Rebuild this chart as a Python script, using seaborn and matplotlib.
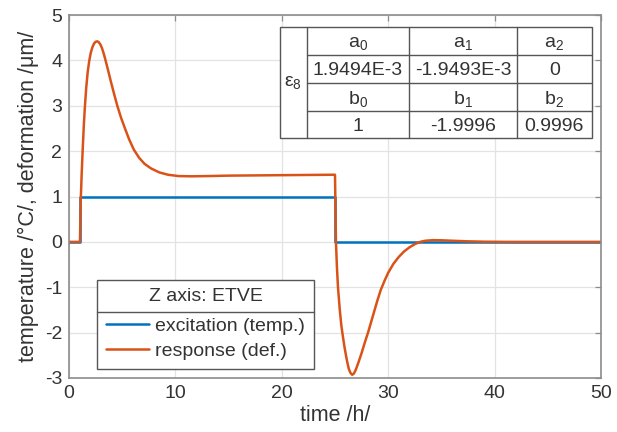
import matplotlib
matplotlib.use("Agg")
import matplotlib.pyplot as plt
import seaborn as sns
import pandas as pd
from matplotlib.lines import Line2D
from matplotlib.patches import Rectangle

# ---------------- data ----------------
exc_t = [0, 1.0, 1.0, 25.0, 25.0, 50]
exc_v = [0, 0, 1, 1, 0, 0]

resp_t = [0, 1.03, 1.1, 1.2, 1.3, 1.4, 1.5, 1.62, 1.76, 1.91, 2.05, 2.2, 2.35,
          2.5, 2.66, 2.8, 2.95, 3.1, 3.25, 3.38, 3.6, 3.95, 4.25, 4.54, 4.9, 5.26,
          5.65, 6.1, 6.6, 7.1, 7.7, 8.5, 9.3, 10.3, 11.5, 13, 15, 20, 25.0,
          25.09, 25.18, 25.28, 25.45, 25.6, 25.72, 25.88, 26.03, 26.17, 26.3, 26.46,
          26.62, 26.78, 26.95, 27.2, 27.5, 27.8, 28.13, 28.45, 28.7, 29.0, 29.3,
          29.65, 30, 30.5, 31, 31.5, 32, 32.5, 33, 33.5, 34.2, 35, 36, 37.5, 39,
          41, 50]
resp_v = [0, 0, 0.9, 1.55, 2.1, 2.6, 3.0, 3.4, 3.75, 4.0, 4.17, 4.29, 4.37,
          4.41, 4.42, 4.40, 4.35, 4.27, 4.16, 4.05, 3.85, 3.52, 3.25, 3.0, 2.73, 2.5,
          2.26, 2.03, 1.85, 1.72, 1.62, 1.53, 1.48, 1.45, 1.445, 1.45, 1.46, 1.47, 1.48,
          0.0, -0.55, -1.0, -1.5, -1.85, -2.05, -2.3, -2.5, -2.67, -2.8, -2.89,
          -2.93, -2.9, -2.82, -2.66, -2.45, -2.22, -1.98, -1.72, -1.52, -1.28, -1.06,
          -0.86, -0.68, -0.48, -0.33, -0.21, -0.12, -0.05, 0.0, 0.025, 0.038, 0.035,
          0.025, 0.012, 0.004, 0.0, 0.0]

series_names = ["excitation (temp.)", "response (def.)"]
series_colors = ["#0072BD", "#D95319"]
legend_title = "Z axis: ETVE"

x_ticks = [0, 10, 20, 30, 40, 50]
y_ticks = [-3, -2, -1, 0, 1, 2, 3, 4, 5]
x_label = "time /h/"
y_label = "temperature /°C/, deformation /μm/"

table_side = r"$\mathregular{ε_8}$"
table_rows = [
    [r"$\mathregular{a_0}$", r"$\mathregular{a_1}$", r"$\mathregular{a_2}$"],
    ["1.9494E-3", "-1.9493E-3", "0"],
    [r"$\mathregular{b_0}$", r"$\mathregular{b_1}$", r"$\mathregular{b_2}$"],
    ["1", "-1.9996", "0.9996"],
]

# ---------------- style ----------------
sns.set_theme(style="white")
plt.rcParams["font.family"] = ["Liberation Sans", "DejaVu Sans"]
plt.rcParams["mathtext.fontset"] = "custom"
plt.rcParams["mathtext.rm"] = "Liberation Sans"
plt.rcParams["mathtext.it"] = "Liberation Sans:italic"
plt.rcParams["mathtext.bf"] = "Liberation Sans:bold"
plt.rcParams["axes.unicode_minus"] = False
TXT = "#333333"
FS = 14
LW = 1.8

W, H = 617, 432
fig = plt.figure(figsize=(W / 100, H / 100), dpi=100)
ax = fig.add_axes([69 / W, 1 - 378 / H, (601 - 69) / W, (378 - 15) / H])

df = pd.concat([
    pd.DataFrame({"t": exc_t, "v": exc_v, "series": series_names[0]}),
    pd.DataFrame({"t": resp_t, "v": resp_v, "series": series_names[1]}),
], ignore_index=True)

sns.lineplot(data=df, x="t", y="v", hue="series", palette=series_colors,
             sort=False, estimator=None, linewidth=LW, ax=ax, legend=False)
for ln in ax.get_lines():
    ln.set_solid_joinstyle("round")

ax.set_xlim(0, 50)
ax.set_ylim(-3, 5)
ax.set_xticks(x_ticks)
ax.set_yticks(y_ticks)
ax.set_xlabel(x_label, fontsize=15.5, color=TXT, labelpad=2)
ax.set_ylabel(y_label, fontsize=15.5, color=TXT, labelpad=4)
ax.grid(True, color="#e3e3e3", linewidth=0.9)
ax.set_axisbelow(True)
for s in ax.spines.values():
    s.set_color("#8c8c8c")
    s.set_linewidth(1.2)
ax.tick_params(direction="in", length=4, width=0.9, color="#8c8c8c",
               top=True, right=True, labelsize=FS, labelcolor=TXT, pad=5)

handles = [Line2D([], [], color=c, linewidth=LW) for c in series_colors]
leg = ax.legend(handles, series_names, title=legend_title, loc="lower left",
                bbox_to_anchor=(0.053, 0.025), borderaxespad=0, fontsize=FS,
                title_fontsize=FS, frameon=True, fancybox=False, framealpha=1,
                edgecolor="#555555", handlelength=2.2, handletextpad=0.33,
                labelspacing=0.4, borderpad=0.45)
leg._legend_box.sep = 8.5
leg.get_frame().set_linewidth(1.0)
leg.get_title().set_color(TXT)
for t in leg.get_texts():
    t.set_color(TXT)

# separator line under the legend title
fig.canvas.draw()
r = fig.canvas.get_renderer()
lb = leg.get_window_extent(r)
tb = leg.get_title().get_window_extent(r)
eb = leg.get_texts()[0].get_window_extent(r)
ysep = (tb.y0 + eb.y1) / 2
inv = fig.transFigure.inverted()
(x0f, yf), (x1f, _) = inv.transform([(lb.x0, ysep), (lb.x1, ysep)])
fig.add_artist(Line2D([x0f, x1f], [yf, yf], color="#555555", linewidth=1.0,
                      transform=fig.transFigure, zorder=10))

# ---------------- coefficient table ----------------
cols = [280, 306.7, 409.3, 516.7, 591.7]
rows = [27.3, 55, 82.7, 110.7, 138.3]
fx = lambda x: x / W
fy = lambda y: 1 - y / H
ec = "#555555"
fig.add_artist(Rectangle((fx(cols[0]), fy(rows[-1])), fx(cols[-1]) - fx(cols[0]),
                         fy(rows[0]) - fy(rows[-1]), transform=fig.transFigure,
                         facecolor="white", edgecolor=ec, linewidth=1.0, zorder=5))
for x in cols[1:-1]:
    fig.add_artist(Line2D([fx(x), fx(x)], [fy(rows[0]), fy(rows[-1])], color=ec,
                          linewidth=1.0, transform=fig.transFigure, zorder=6))
for y in rows[1:-1]:
    fig.add_artist(Line2D([fx(cols[1]), fx(cols[-1])], [fy(y), fy(y)], color=ec,
                          linewidth=1.0, transform=fig.transFigure, zorder=6))
fig.text(fx((cols[0] + cols[1]) / 2), fy((rows[0] + rows[-1]) / 2), table_side,
         ha="center", va="center", fontsize=FS, color=TXT, zorder=7)
for i, row in enumerate(table_rows):
    for j, txt in enumerate(row):
        fig.text(fx((cols[j + 1] + cols[j + 2]) / 2), fy((rows[i] + rows[i + 1]) / 2),
                 txt, ha="center", va="center_baseline", fontsize=FS, color=TXT, zorder=7)

fig.savefig("out.png", dpi=100)
